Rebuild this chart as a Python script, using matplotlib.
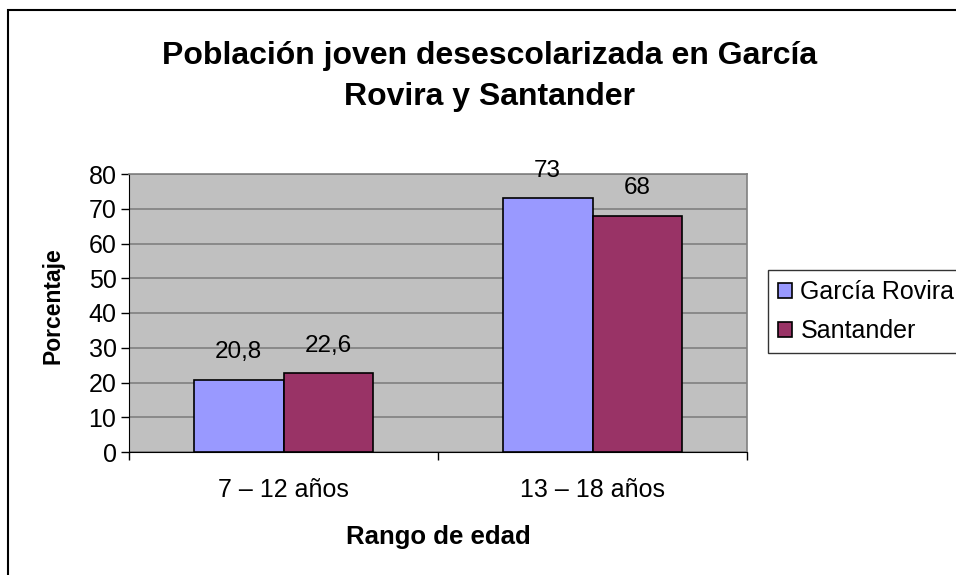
import matplotlib.pyplot as plt
import matplotlib.patches as patches
import numpy as np

plt.rcParams['font.family'] = ['Liberation Sans', 'DejaVu Sans']

categories = ['7 – 12 años', '13 – 18 años']
garcia_rovira = [20.8, 73]
santander = [22.6, 68]
garcia_labels = ['20,8', '73']
santander_labels = ['22,6', '68']
yticks = [0, 10, 20, 30, 40, 50, 60, 70, 80]


def main():
    fig = plt.figure(figsize=(9.56, 5.75), dpi=100)
    W, H = 956, 575

    # outer chart border (right and bottom edges are cut off in the original)
    fig.patches.append(patches.Rectangle((8 / W, -0.1), 1.2, (575 - 10) / H + 0.1,
                                         transform=fig.transFigure,
                                         fill=False, edgecolor='black', linewidth=1.5))

    ax = fig.add_axes([129 / W, (575 - 452) / H, (747 - 129) / W, (452 - 174) / H])
    ax.set_facecolor('#C0C0C0')

    x = np.arange(len(categories))
    w = 0.29
    b1 = ax.bar(x - w / 2, garcia_rovira, w, color='#9999FF', edgecolor='black',
                linewidth=1.2, zorder=3, label='García Rovira')
    b2 = ax.bar(x + w / 2, santander, w, color='#993366', edgecolor='black',
                linewidth=1.2, zorder=3, label='Santander')

    for rect, lab in zip(b1, garcia_labels):
        ax.annotate(lab, (rect.get_x() + rect.get_width() / 2, rect.get_height()),
                    xytext=(0, 20), textcoords='offset points', ha='center',
                    va='center', fontsize=17.5)
    for rect, lab in zip(b2, santander_labels):
        ax.annotate(lab, (rect.get_x() + rect.get_width() / 2, rect.get_height()),
                    xytext=(0, 20), textcoords='offset points', ha='center',
                    va='center', fontsize=17.5)

    ax.set_xlim(-0.5, 1.5)
    ax.set_ylim(0, 80)
    ax.set_yticks(yticks)
    ax.yaxis.grid(True, color='#808080', linewidth=1.2, zorder=1)
    ax.set_axisbelow(True)
    ax.tick_params(axis='y', labelsize=18, length=6, width=1, direction='out', pad=3)

    ax.set_xticks(x)
    ax.set_xticklabels(categories, fontsize=18)
    ax.tick_params(axis='x', length=0, pad=19)
    ax.set_xticks([-0.5, 0.5, 1.5], minor=True)
    ax.tick_params(axis='x', which='minor', length=6, width=1, direction='out')

    for side in ['top', 'right']:
        ax.spines[side].set_color('#808080')
        ax.spines[side].set_linewidth(1.2)
    ax.spines['left'].set_color('black')
    ax.spines['bottom'].set_color('black')

    # axis titles
    fig.text(53 / W, 1 - 306 / H, 'Porcentaje', rotation=90, ha='center',
             va='center', fontsize=16.5, fontweight='bold')
    fig.text(438 / W, 1 - 537 / H, 'Rango de edad', ha='center', va='center',
             fontsize=18.5, fontweight='bold')

    fig.text(490 / W, 1 - 56 / H, 'Población joven desescolarizada en García',
             ha='center', va='center', fontsize=23, fontweight='bold')
    fig.text(490 / W, 1 - 97 / H, 'Rovira y Santander',
             ha='center', va='center', fontsize=23, fontweight='bold')

    leg = fig.legend(handles=[b1, b2], loc='upper left',
                     bbox_to_anchor=(768 / W, 1 - 270 / H), fontsize=18,
                     frameon=True, fancybox=False, edgecolor='black',
                     handlelength=0.55, handleheight=0.55, handletextpad=0.35,
                     borderpad=0.4, labelspacing=0.6, borderaxespad=0)
    leg.get_frame().set_linewidth(1)

    fig.savefig('out.png', dpi=100)


if __name__ == '__main__':
    main()
